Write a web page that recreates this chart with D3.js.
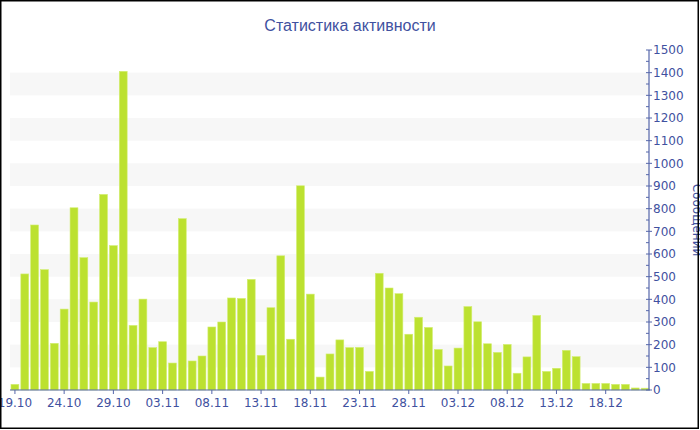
<!DOCTYPE html>
<html>
<head>
<meta charset="utf-8">
<script src="https://cdn.jsdelivr.net/npm/d3@7.9.0/dist/d3.min.js"></script>
<style>
  body { margin: 0; background: #fff; }
  svg { display: block; }
</style>
</head>
<body>
<svg id="chart" width="700" height="430"></svg>
<script>
// ====== DATA ======

const days = [
  '19.10', '20.10', '21.10', '22.10', '23.10', '24.10', '25.10', '26.10', '27.10', '28.10',
  '29.10', '30.10', '31.10', '01.11', '02.11', '03.11', '04.11', '05.11', '06.11', '07.11',
  '08.11', '09.11', '10.11', '11.11', '12.11', '13.11', '14.11', '15.11', '16.11', '17.11',
  '18.11', '19.11', '20.11', '21.11', '22.11', '23.11', '24.11', '25.11', '26.11', '27.11',
  '28.11', '29.11', '30.11', '01.12', '02.12', '03.12', '04.12', '05.12', '06.12', '07.12',
  '08.12', '09.12', '10.12', '11.12', '12.12', '13.12', '14.12', '15.12', '16.12', '17.12',
  '18.12', '19.12', '20.12', '21.12', '22.12'
];

const messages = [
  25, 512, 728, 531, 206, 357, 804, 584, 388, 863,
  637, 1406, 285, 401, 187, 213, 119, 756, 128, 150,
  278, 300, 406, 404, 488, 153, 363, 592, 224, 901,
  423, 57, 159, 221, 187, 188, 82, 515, 450, 425,
  246, 321, 276, 179, 106, 185, 368, 301, 204, 166,
  201, 74, 146, 329, 82, 96, 175, 147, 29, 29,
  29, 25, 25, 9, 8
];

const xTickLabels = ['19.10', '24.10', '29.10', '03.11', '08.11', '13.11', '18.11',
  '23.11', '28.11', '03.12', '08.12', '13.12', '18.12'];

const yMax = 1500;

// ====== LAYOUT ======

const svg = d3.select('#chart');
const W = 700, H = 430;
const plot = { left: 10, right: 650, top: 50, bottom: 390 };
const textColor = '#3f51a0';
const axisColor = '#5566aa';

const x = d3.scaleBand()
  .domain(days)
  .range([plot.left, plot.right])
  .paddingInner(0.2)
  .paddingOuter(0.1);

const y = d3.scaleLinear()
  .domain([0, yMax])
  .range([plot.bottom, plot.top]);

// alternating bands
const bandStarts = d3.range(100, yMax, 200);
svg.append('g')
  .selectAll('rect')
  .data(bandStarts)
  .join('rect')
  .attr('x', plot.left)
  .attr('width', plot.right - plot.left)
  .attr('y', (d) => y(d + 100))
  .attr('height', (d) => y(d) - y(d + 100))
  .attr('fill', '#f7f7f7');

// bars
svg.append('g')
  .selectAll('rect')
  .data(messages)
  .join('rect')
  .attr('x', (d, i) => x(days[i]))
  .attr('width', x.bandwidth())
  .attr('y', (d) => y(d))
  .attr('height', (d) => y(0) - y(d))
  .attr('fill', '#bce130')
  .attr('stroke', '#d3ee72')
  .attr('stroke-width', 0.6);

// ====== AXES ======

const fontFamily = '"DejaVu Sans", Verdana, sans-serif';

// x axis
const xAxis = svg.append('g')
  .attr('transform', `translate(0,${plot.bottom})`)
  .call(d3.axisBottom(x).tickValues(xTickLabels).tickSize(4).tickSizeOuter(0));
xAxis.select('.domain').remove();
xAxis.append('line')
  .attr('x1', plot.left).attr('x2', plot.right)
  .attr('stroke', axisColor).attr('stroke-width', 1.2);
xAxis.selectAll('.tick line').attr('stroke', axisColor);
xAxis.selectAll('.tick text')
  .attr('fill', textColor)
  .attr('font-family', fontFamily)
  .attr('font-size', 12)
  .attr('dy', '0.8em');

// y axis (right)
const yAxis = svg.append('g')
  .attr('transform', `translate(${plot.right - 1},0)`);

yAxis.append('g')
  .call(d3.axisRight(y).ticks(15).tickFormat(d3.format('d')).tickSize(0).tickPadding(4))
  .call((g) => g.select('.domain').remove())
  .call((g) => g.selectAll('.tick text')
    .attr('fill', textColor)
    .attr('font-family', fontFamily)
    .attr('font-size', 12));

// major ticks crossing the axis
yAxis.selectAll('line.major')
  .data(y.ticks(15))
  .join('line')
  .attr('class', 'major')
  .attr('x1', -3).attr('x2', 3)
  .attr('y1', (d) => y(d)).attr('y2', (d) => y(d))
  .attr('stroke', axisColor);

// minor ticks
yAxis.selectAll('line.minor')
  .data(d3.range(50, yMax, 100))
  .join('line')
  .attr('class', 'minor')
  .attr('x1', -3).attr('x2', 0)
  .attr('y1', (d) => y(d)).attr('y2', (d) => y(d))
  .attr('stroke', axisColor);

yAxis.append('line')
  .attr('y1', plot.top).attr('y2', plot.bottom)
  .attr('stroke', axisColor).attr('stroke-width', 1.2);

// axis title
svg.append('text')
  .attr('transform', `translate(693,${(plot.top + plot.bottom) / 2}) rotate(90)`)
  .attr('text-anchor', 'middle')
  .attr('fill', textColor)
  .attr('font-family', fontFamily)
  .attr('font-size', 12)
  .text('Сообщений');

// chart title
svg.append('text')
  .attr('x', W / 2)
  .attr('y', 31)
  .attr('text-anchor', 'middle')
  .attr('fill', textColor)
  .attr('font-family', '"Liberation Sans Narrow", "Arial Narrow", sans-serif')
  .attr('font-size', 16)
  .text('Статистика активности');

// frame
svg.append('rect')
  .attr('x', 0.75).attr('y', 0.75)
  .attr('width', W - 2.5).attr('height', H - 2.5)
  .attr('fill', 'none')
  .attr('stroke', '#000')
  .attr('stroke-width', 1.5);
</script>
</body>
</html>
